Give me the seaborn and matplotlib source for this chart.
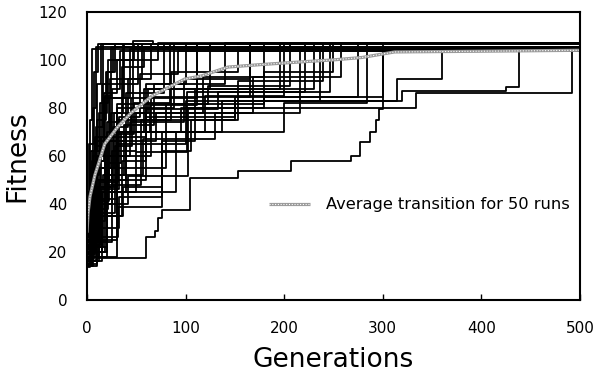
import numpy as np
import pandas as pd
import matplotlib
matplotlib.use("Agg")
import matplotlib.pyplot as plt
import seaborn as sns

# ---- data: step points (generation, fitness) for each of the 50 runs ----
runs = [
    # fast runs
    [(0,14),(2,30),(4,55),(6,80),(9,105.5)],
    [(0,18),(3,38),(6,62),(10,90),(14,106.5)],
    [(0,22),(4,48),(9,72),(16,106.5)],
    [(0,15),(5,28),(11,58),(18,85),(24,105.5)],
    [(0,30),(3,52),(12,78),(20,95),(28,106.5)],
    [(0,20),(6,40),(14,68),(25,88),(33,103.5)],
    [(0,26),(2,44),(8,66),(22,84),(38,106.5)],
    [(0,17),(7,33),(18,60),(30,80),(47,108),(67,106.5)],
    [(0,35),(4,62),(15,90),(52,106.5)],
    [(0,24),(9,50),(20,74),(35,97),(58,105.5)],
    [(0,13.5),(3,25),(10,47),(26,72),(42,92),(65,106.5)],
    [(0,28),(5,58),(17,86),(30,100),(72,107)],
    [(0,19),(8,41),(22,66),(40,86),(78,106.5)],
    [(0,40),(2,65),(7,95),(11,106.5)],
    [(0,45),(3,75),(5,104.5)],
    [(0,32),(6,60),(13,82),(21,100),(48,106.5)],
    [(0,16),(12,36),(28,64),(46,80),(88,106.5)],
    [(0,22),(14,46),(32,76),(54,94),(92,103.5)],
    [(0,27),(7,55),(24,78),(62,88),(125,106.5)],
    [(0,14),(4,22),(16,52),(38,73),(68,90),(140,107)],
    [(0,30),(4,50),(10,75),(19,95),(26,105.5)],
    [(0,14),(6,30),(13,55),(27,78),(36,106.5)],
    [(0,21),(3,42),(9,64),(17,84),(44,104.5)],
    [(0,36),(8,68),(23,92),(56,106.5)],
    [(0,19),(5,36),(19,57),(34,70),(64,81),(112,106.5)],
    [(0,26),(11,47),(29,69),(48,82),(84,106.5)],
    [(0,16),(9,38),(21,60),(44,74),(98,92),(165,106.5)],
    [(0,23),(13,49),(31,70),(58,88),(196,106.5)],
    # mid-range plateaus
    [(0,22),(8,45),(20,70),(45,84),(112,106.5)],
    [(0,18),(10,40),(25,62),(50,78),(118,93),(180,106.5)],
    [(0,30),(6,55),(30,81.6),(123,89),(206,106.5)],
    [(0,16),(15,35),(35,58),(60,79.5),(133,86.6),(221,106.5)],
    [(0,25),(12,50),(40,70),(137,83),(236,104.5)],
    [(0,20),(20,48),(55,75),(153,91),(239,106.5)],
    [(0,28),(10,60),(65,84.5),(165,106.5)],
    [(0,35),(18,66),(70,78),(168,93),(258,106.5)],
    [(0,24),(25,55),(80,81.6),(180,84.5),(275,106.5)],
    [(0,18),(30,45),(90,70),(200,82),(284,106.5)],
    [(0,32),(5,50),(22,68),(60,90),(100,106.5)],
    [(0,20),(8,42),(30,75),(85,95),(153,103.5)],
    [(0,15),(10,30),(32,43),(76,70),(120,85),(200,106.5)],
    [(0,18),(12,35),(37,47),(76,66),(110,88),(230,106.5)],
    [(0,20),(18,40),(42,51.5),(102,80),(180,95),(250,107)],
    [(0,25),(15,45),(50,61.5),(101,86.6),(246,106.5)],
    [(0,22),(20,52),(57,67),(130,78),(216,104.5)],
    # slow runs
    [(0,14),(10,17.6),(60,26.4),(69,28.5),(72,34),(76,37.6),(104,50.6),(153,53.5),
     (207,57.7),(268,60),(277,65.7),(287,70),(293,75),(296,79.5),(300,103.5)],
    [(0,14),(5,20),(15,26),(31,38.5),(76,62),(105,75),(150,84.5),(300,106.5)],
    [(0,20),(15,45),(40,70),(95,80),(334,86),(492,104.5)],
    [(0,18),(20,50),(60,76),(150,83),(320,87),(425,88.5),(438,104.5)],
    [(0,25),(30,65),(100,83),(314,92),(360,104.5)],
]

avg_gen = [0, 1, 3, 8, 18, 31, 45, 66, 99, 116, 143, 175, 211, 250, 279, 312, 400, 500]
avg_fit = [28, 36, 43, 52, 65, 72, 78, 85, 92, 93.3, 97, 98, 99, 100, 101, 103.3, 103.6, 104]

legend_label = "Average transition for 50 runs"
x_ticks = [0, 100, 200, 300, 400, 500]
y_ticks = [0, 20, 40, 60, 80, 100, 120]

# ---- build long table (each run extended to generation 500) ----
rows = []
for i, r in enumerate(runs):
    for g, f in r:
        rows.append((i, g, f))
    rows.append((i, 500, r[-1][1]))
df = pd.DataFrame(rows, columns=["run", "gen", "fit"])
avg_df = pd.DataFrame({"gen": avg_gen, "fit": avg_fit})

sns.set_style("ticks")
plt.rcParams["font.family"] = ["DejaVu Sans"]
plt.rcParams["text.color"] = "black"
plt.rcParams["axes.labelcolor"] = "black"
plt.rcParams["xtick.color"] = "black"
plt.rcParams["ytick.color"] = "black"

fig = plt.figure(figsize=(5.96, 3.83), dpi=100)
ax = fig.add_axes([0.146, 0.217, 0.827, 0.752])

sns.lineplot(data=df, x="gen", y="fit", units="run", estimator=None,
             color="black", lw=1.3, drawstyle="steps-post", legend=False, ax=ax)

l1, = ax.plot(avg_df["gen"], avg_df["fit"], color="#9a9a9a", lw=2.3, solid_capstyle="butt")
l2, = ax.plot(avg_df["gen"], avg_df["fit"], color="white", lw=0.8, ls=(0, (1, 1.5)))

ax.legend([(l1, l2)], [legend_label], loc="center left",
          bbox_to_anchor=(0.34, 0.33), frameon=False, fontsize=11.7,
          handlelength=2.5, handletextpad=1.0)

ax.set_xlim(0, 500)
ax.set_ylim(0, 120)
ax.set_xticks(x_ticks)
ax.set_yticks(y_ticks)
ax.tick_params(axis="x", direction="in", length=4, width=1, labelsize=11, pad=15)
ax.tick_params(axis="y", direction="in", length=0, labelsize=11, pad=14)
for s in ax.spines.values():
    s.set_visible(True)
    s.set_linewidth(1.5)
    s.set_color("black")

ax.set_xlabel("Generations", fontsize=19, labelpad=8)
ax.set_ylabel("Fitness", fontsize=19, labelpad=6)

fig.savefig("out.png", dpi=100)
